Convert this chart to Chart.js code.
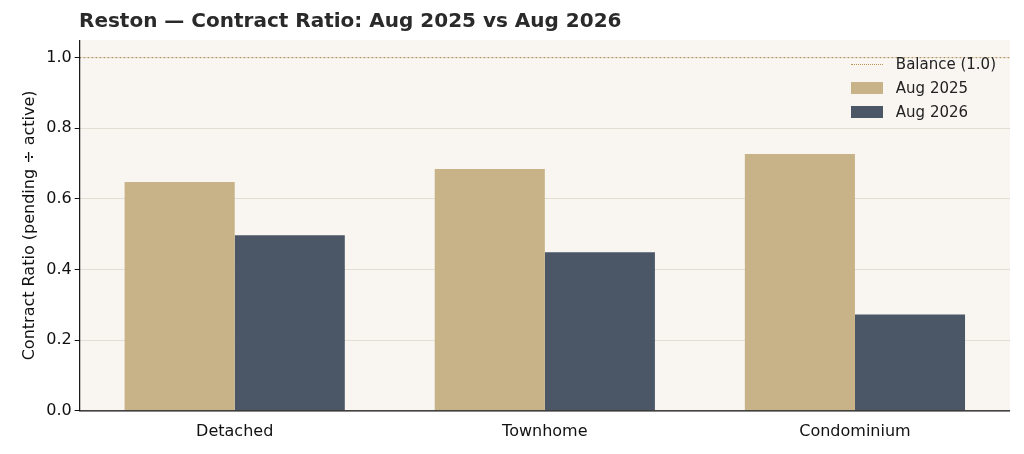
<!DOCTYPE html>
<html><head><meta charset="utf-8">
<script src="https://cdn.jsdelivr.net/npm/chart.js@4/dist/chart.umd.min.js"></script>
<style>
html,body{margin:0;padding:0;background:#fff;}
#wrap{position:relative;width:1024px;height:454px;font-family:"DejaVu Sans",sans-serif;}
#title{position:absolute;left:79px;top:8px;font-size:20px;font-weight:bold;color:#2a2a2a;}
#legend{position:absolute;right:28px;top:52px;font-size:15px;color:#222;line-height:24px;}
#legend div{display:flex;align-items:center;}
#legend span.sw{display:inline-block;width:32px;height:12px;margin-right:13px;}
</style></head><body>
<div id="wrap"><canvas id="c" width="1024" height="454"></canvas>
<div id="title">Reston — Contract Ratio: Aug 2025 vs Aug 2026</div>
<div id="legend">
<div><span class="sw" style="height:0;border-top:1.5px dotted #b8925a;"></span>Balance (1.0)</div>
<div><span class="sw" style="background:#c8b287"></span>Aug 2025</div>
<div><span class="sw" style="background:#4b5667"></span>Aug 2026</div>
</div></div>
<script>
const categories=["Detached","Townhome","Condominium"];
const aug2025=[0.648,0.685,0.727];
const aug2026=[0.497,0.449,0.273];
const balance=1.0;
const yTicks=[0,0.2,0.4,0.6,0.8,1.0];
const plug={id:'bg',beforeDraw(ch){const a=ch.chartArea,c=ch.ctx;c.save();c.fillStyle='#f9f6f1';c.fillRect(a.left,a.top,a.right-a.left,a.bottom-a.top);c.restore();},
afterDatasetsDraw(ch){const a=ch.chartArea,c=ch.ctx,y=ch.scales.y.getPixelForValue(balance);c.save();c.strokeStyle='#b8925a';c.lineWidth=1.3;c.setLineDash([1.5,2.5]);c.beginPath();c.moveTo(a.left,y);c.lineTo(a.right,y);c.stroke();
c.setLineDash([]);c.strokeStyle='#111';c.lineWidth=1.2;c.beginPath();c.moveTo(a.left,a.top);c.lineTo(a.left,a.bottom);c.lineTo(a.right,a.bottom);c.stroke();c.restore();}};
new Chart(document.getElementById('c'),{type:'bar',
data:{labels:categories,datasets:[
{label:'Aug 2025',data:aug2025,backgroundColor:'#c8b287',categoryPercentage:0.71,barPercentage:1},
{label:'Aug 2026',data:aug2026,backgroundColor:'#4b5667',categoryPercentage:0.71,barPercentage:1}]},
options:{responsive:false,animation:false,devicePixelRatio:1,
layout:{padding:{right:14,top:40,bottom:10,left:16}},
plugins:{legend:{display:false},tooltip:{enabled:false},title:{display:false}},
scales:{x:{grid:{display:false},border:{display:false},ticks:{color:'#111',font:{family:'DejaVu Sans',size:16}}},
y:{min:0,max:1.05,afterBuildTicks(s){s.ticks=yTicks.map(v=>({value:v}));},
grid:{color:'#e3ddd3',drawTicks:true,tickColor:'#111',tickLength:5},border:{display:false},
ticks:{color:'#111',font:{family:'DejaVu Sans',size:16},callback:v=>v.toFixed(1)},
title:{display:true,text:'Contract Ratio (pending ÷ active)',color:'#111',font:{family:'DejaVu Sans',size:16}}}}},
plugins:[plug]});
</script></body></html>
